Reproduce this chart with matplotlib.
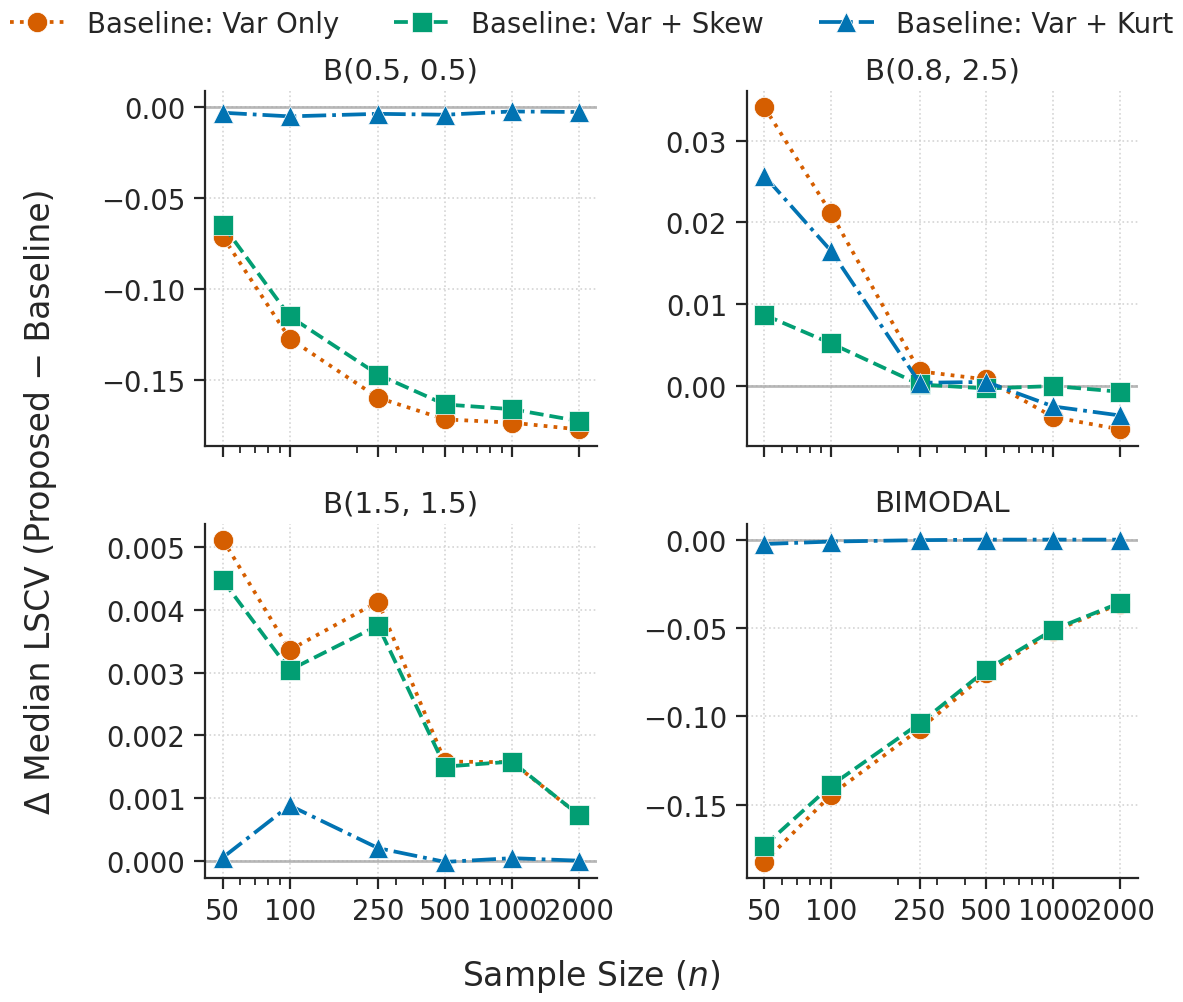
import matplotlib
matplotlib.use("Agg")
import matplotlib.pyplot as plt
from matplotlib.ticker import MultipleLocator, FixedLocator, FixedFormatter, NullFormatter

# ---------------- data ----------------
sample_sizes = [50, 100, 250, 500, 1000, 2000]
tick_labels = ["50", "100", "250", "500", "1000", "2000"]
panel_titles = ["B(0.5, 0.5)", "B(0.8, 2.5)", "B(1.5, 1.5)", "BIMODAL"]
series_names = ["Baseline: Var Only", "Baseline: Var + Skew", "Baseline: Var + Kurt"]

b05_var_only = [-0.0712, -0.1272, -0.1597, -0.1716, -0.1734, -0.1771]
b05_var_skew = [-0.0648, -0.1150, -0.1470, -0.1634, -0.1660, -0.1725]
b05_var_kurt = [-0.0031, -0.0051, -0.0037, -0.0042, -0.0024, -0.0027]

b0825_var_only = [0.0341, 0.0211, 0.0018, 0.0008, -0.0038, -0.0053]
b0825_var_skew = [0.0087, 0.0052, 0.0002, -0.0003, 0.0000, -0.0007]
b0825_var_kurt = [0.0257, 0.0165, 0.0004, 0.0005, -0.0025, -0.0036]

b15_var_only = [0.00512, 0.00336, 0.00413, 0.00158, 0.00157, 0.00073]
b15_var_skew = [0.00447, 0.00304, 0.00375, 0.00150, 0.00158, 0.00073]
b15_var_kurt = [0.00005, 0.00088, 0.00020, -0.00002, 0.00004, 0.00000]

bimodal_var_only = [-0.1823, -0.1443, -0.1072, -0.0755, -0.0518, -0.0362]
bimodal_var_skew = [-0.1732, -0.1390, -0.1039, -0.0736, -0.0509, -0.0357]
bimodal_var_kurt = [-0.0025, -0.0011, -0.0003, 0.0000, 0.0000, 0.0000]

panels = [
    (b05_var_only, b05_var_skew, b05_var_kurt),
    (b0825_var_only, b0825_var_skew, b0825_var_kurt),
    (b15_var_only, b15_var_skew, b15_var_kurt),
    (bimodal_var_only, bimodal_var_skew, bimodal_var_kurt),
]
y_steps = [0.05, 0.01, 0.001, 0.05]

# ---------------- style ----------------
colors = ["#D55E00", "#029E73", "#0173B2"]
markers = ["o", "s", "^"]
linestyles = [":", "--", "-."]
text_color = "#262626"

plt.rcParams.update({
    "font.family": ["DejaVu Sans"],
    "text.color": text_color,
    "axes.labelcolor": text_color,
    "xtick.color": text_color,
    "ytick.color": text_color,
    "axes.edgecolor": text_color,
    "axes.linewidth": 1.6,
    "xtick.major.width": 1.6,
    "ytick.major.width": 1.6,
    "xtick.minor.width": 1.3,
    "ytick.minor.width": 1.3,
    "xtick.major.size": 8,
    "ytick.major.size": 8,
    "xtick.minor.size": 5,
    "ytick.minor.size": 5,
    "xtick.major.pad": 6,
    "ytick.major.pad": 6,
    "xtick.labelsize": 19.8,
    "ytick.labelsize": 19.8,
    "axes.titlesize": 21.2,
})

fig, axes = plt.subplots(2, 2, figsize=(11.83, 10.03), dpi=100, sharex=True)
fig.subplots_adjust(left=0.1733, right=0.962, bottom=0.1236, top=0.9083,
                    wspace=0.383, hspace=0.22)

handles = []
for ax, data, title, step in zip(axes.flat, panels, panel_titles, y_steps):
    ax.axhline(0, color="#a8a8a8", lw=2, alpha=0.8, zorder=1)
    for i, vals in enumerate(data):
        ln, = ax.plot(sample_sizes, vals, color=colors[i], marker=markers[i],
                      linestyle=linestyles[i], lw=2.7, markersize=14.5,
                      markeredgecolor="white", markeredgewidth=0.5,
                      label=series_names[i], zorder=3 + i)
        if ax is axes.flat[0]:
            handles.append(ln)
    ax.set_xscale("log")
    ax.xaxis.set_major_locator(FixedLocator(sample_sizes))
    ax.xaxis.set_major_formatter(FixedFormatter(tick_labels))
    ax.xaxis.set_minor_formatter(NullFormatter())
    ax.yaxis.set_major_locator(MultipleLocator(step))
    ax.grid(True, which="major", linestyle=":", color="#d4d4d4", lw=1.2)
    ax.set_axisbelow(True)
    ax.spines["top"].set_visible(False)
    ax.spines["right"].set_visible(False)
    ax.set_title(title, color=text_color, pad=9)

fig.legend(handles=handles, labels=series_names, loc="upper center",
           bbox_to_anchor=(0.5, 1.014), ncol=3, frameon=False, fontsize=19.8,
           handlelength=2.0, handletextpad=0.8, columnspacing=2.0)
fig.supxlabel("Sample Size ($n$)", fontsize=23.8, y=0.008, color=text_color)
fig.supylabel("Δ Median LSCV (Proposed − Baseline)", fontsize=23.8, x=0.02,
              color=text_color)

fig.savefig("out.png", dpi=100)
